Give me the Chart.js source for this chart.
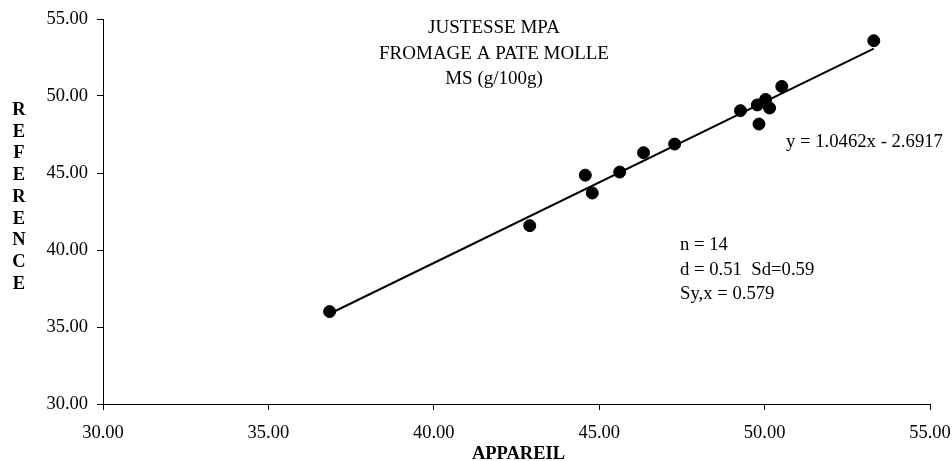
<!DOCTYPE html>
<html>
<head>
<meta charset="utf-8">
<script src="https://cdn.jsdelivr.net/npm/chart.js@4/dist/chart.umd.min.js"></script>
<style>
  html, body { margin: 0; padding: 0; background: #fff; }
  #wrap { width: 952px; height: 461px; }
</style>
</head>
<body>
<div id="wrap"><canvas id="c" width="952" height="461"></canvas></div>
<script>
// Instrument reading (APPAREIL) vs reference value (REFERENCE), MS g/100g
const appareil  = [36.85, 42.90, 44.58, 44.79, 45.62, 46.34, 47.28, 49.27, 49.78, 50.03, 50.15, 49.83, 50.52, 53.30];
const reference = [36.00, 41.58, 44.86, 43.70, 45.06, 46.32, 46.88, 49.05, 49.42, 49.78, 49.22, 48.18, 50.62, 53.59];

// Fitted regression y = a*x + b
const slope = [1.0462];
const intercept = [-2.6917];

const axisTicks = [30, 35, 40, 45, 50, 55];
const titleLines = ['JUSTESSE MPA', 'FROMAGE A PATE MOLLE', 'MS (g/100g)'];
const statLines = ['n = 14', 'd = 0.51  Sd=0.59', 'Sy,x = 0.579'];
const equationText = 'y = 1.0462x - 2.6917';
const xTitle = 'APPAREIL';
const yTitle = 'REFERENCE';

const points = appareil.map((x, i) => ({ x: x, y: reference[i] }));
const xMin = Math.min(...appareil), xMax = Math.max(...appareil);
const fitLine = [xMin, xMax].map(x => ({ x: x, y: slope[0] * x + intercept[0] }));

const SERIF = '"Liberation Serif", "Times New Roman", serif';

const textPlugin = {
  id: 'chartText',
  afterDraw(chart) {
    const ctx = chart.ctx;
    const area = chart.chartArea;
    ctx.save();
    ctx.fillStyle = '#000';
    ctx.textBaseline = 'alphabetic';

    // title block
    ctx.font = '19px ' + SERIF;
    ctx.textAlign = 'center';
    titleLines.forEach((t, i) => ctx.fillText(t, 494, 33 + i * 25.5));

    // regression equation
    ctx.font = '18.7px ' + SERIF;
    ctx.textAlign = 'left';
    ctx.fillText(equationText, 786, 147);

    // statistics
    statLines.forEach((t, i) => ctx.fillText(t, 680, 250 + i * 24.7));

    // axis titles
    ctx.font = 'bold 18.5px ' + SERIF;
    ctx.textAlign = 'center';
    ctx.fillText(xTitle, (area.left + area.right) / 2 + 2, 459);
    yTitle.split('').forEach((ch, i) => ctx.fillText(ch, 19, 115 + i * 21.7));
    ctx.restore();
  }
};

new Chart(document.getElementById('c'), {
  type: 'scatter',
  data: {
    datasets: [
      {
        label: 'fit',
        type: 'line',
        data: fitLine,
        borderColor: '#000',
        borderWidth: 2,
        pointRadius: 0,
        fill: false,
        tension: 0,
        order: 2
      },
      {
        label: 'mesures',
        data: points,
        backgroundColor: '#000',
        borderColor: '#000',
        pointRadius: 6,
        pointHoverRadius: 6,
        order: 1
      }
    ]
  },
  options: {
    responsive: false,
    animation: false,
    devicePixelRatio: 1,
    layout: { padding: { left: 0, right: 22, top: 19, bottom: 0 } },
    plugins: {
      legend: { display: false },
      tooltip: { enabled: false },
      title: { display: false }
    },
    scales: {
      x: {
        type: 'linear',
        min: axisTicks[0],
        max: axisTicks[axisTicks.length - 1],
        afterBuildTicks(scale) { scale.ticks = axisTicks.map(v => ({ value: v })); },
        afterFit(scale) {
          scale.height = 57;
          scale.paddingLeft = 0;
          scale.paddingRight = 0;
        },
        grid: { drawOnChartArea: false, drawTicks: true, tickLength: 6, color: '#000', lineWidth: 1 },
        border: { display: true, color: '#000', width: 1 },
        ticks: {
          color: '#000',
          font: { family: SERIF, size: 18.5 },
          padding: 12,
          maxRotation: 0,
          callback: v => Number(v).toFixed(2)
        }
      },
      y: {
        type: 'linear',
        min: axisTicks[0],
        max: axisTicks[axisTicks.length - 1],
        afterBuildTicks(scale) { scale.ticks = axisTicks.map(v => ({ value: v })); },
        afterFit(scale) {
          scale.width = 103;
          scale.paddingTop = 0;
          scale.paddingBottom = 0;
        },
        grid: { drawOnChartArea: false, drawTicks: true, tickLength: 6, color: '#000', lineWidth: 1 },
        border: { display: true, color: '#000', width: 1 },
        ticks: {
          color: '#000',
          font: { family: SERIF, size: 18.5 },
          padding: 9,
          callback: v => Number(v).toFixed(2)
        }
      }
    }
  },
  plugins: [textPlugin]
});
</script>
</body>
</html>
